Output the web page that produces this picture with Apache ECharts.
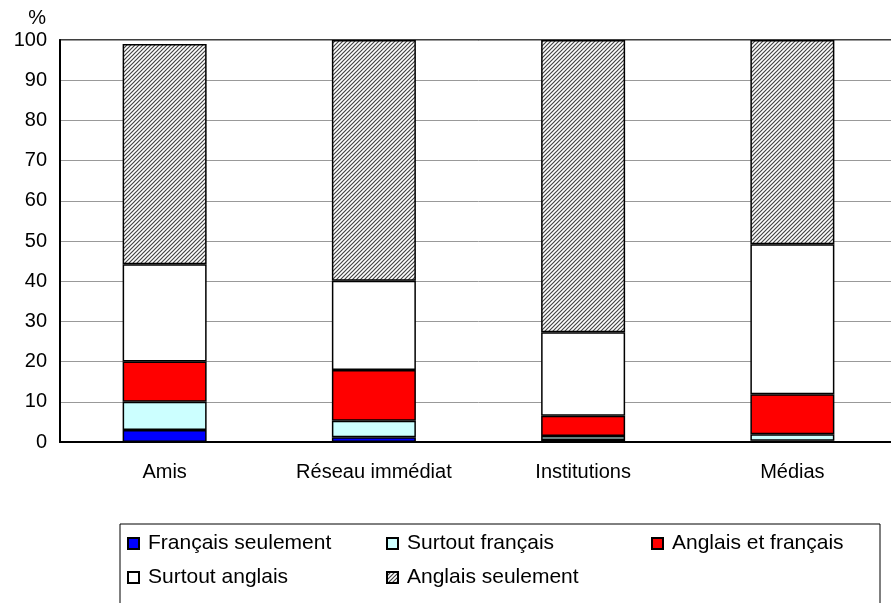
<!DOCTYPE html>
<html>
<head>
<meta charset="utf-8">
<script src="https://cdn.jsdelivr.net/npm/echarts@6/dist/echarts.min.js"></script>
<style>
  html, body { margin: 0; padding: 0; background: #fff; overflow: hidden; }
  #chart { width: 900px; height: 603px; }
</style>
</head>
<body>
<div id="chart"></div>
<script>
// categories and stacked shares (%)
const categories = ['Amis', 'Réseau immédiat', 'Institutions', 'Médias'];
const francaisSeulement = [3.0, 1.2, 0.5, 0.3];
const surtoutFrancais = [7.0, 4.1, 1.0, 1.6];
const anglaisEtFrancais = [10.0, 12.6, 5.0, 10.0];
const surtoutAnglais = [24.2, 22.2, 20.8, 37.3];
const anglaisSeulement = [54.8, 59.9, 72.7, 50.8];
const yTicks = [0, 10, 20, 30, 40, 50, 60, 70, 80, 90, 100];

const font = 'Liberation Sans, Arial, sans-serif';

// hatch pattern for "Anglais seulement"
function hatch() {
  const c = document.createElement('canvas');
  c.width = 4; c.height = 4;
  const ctx = c.getContext('2d');
  ctx.fillStyle = '#fff';
  ctx.fillRect(0, 0, 4, 4);
  ctx.strokeStyle = '#444';
  ctx.lineWidth = 1.2;
  ctx.beginPath();
  ctx.moveTo(-1, 5); ctx.lineTo(5, -1);
  ctx.moveTo(-1, 1); ctx.lineTo(1, -1);
  ctx.moveTo(3, 5); ctx.lineTo(5, 3);
  ctx.stroke();
  return { image: c, repeat: 'repeat' };
}

// chart is a bit wider than the window so the plot's right edge falls off-screen
const chart = echarts.init(document.getElementById('chart'));

const mk = (name, data, color) => ({
  name: name,
  type: 'bar',
  stack: 'total',
  barWidth: 84,
  data: data,
  itemStyle: { color: color, borderColor: '#000', borderWidth: 1.5 }
});

const legendPos = [
  ['Français seulement', 127, 533],
  ['Surtout français', 386, 533],
  ['Anglais et français', 651, 533],
  ['Surtout anglais', 127, 567],
  ['Anglais seulement', 386, 567]
];

chart.setOption({
  backgroundColor: '#fff',
  animation: false,
  grid: { left: 60, top: 40, bottom: 161, right: 3, show: true, borderColor: '#000', borderWidth: 1.5, backgroundColor: 'transparent' },
  xAxis: {
    type: 'category',
    data: categories,
    axisLine: { lineStyle: { color: '#000', width: 2 } },
    axisTick: { show: false },
    axisLabel: { color: '#000', fontFamily: font, fontSize: 20, margin: 20 }
  },
  yAxis: {
    type: 'value',
    min: 0,
    max: 100,
    interval: 10,
    name: '%',
    nameLocation: 'end',
    nameGap: 12,
    nameTextStyle: { color: '#000', fontFamily: font, fontSize: 20, align: 'right', padding: [0, 14, 0, 0] },
    axisLine: { show: true, lineStyle: { color: '#000', width: 2 } },
    axisTick: { show: false },
    axisLabel: { color: '#000', fontFamily: font, fontSize: 20, margin: 13,
      formatter: v => yTicks.includes(v) ? String(v) : '' },
    splitLine: { lineStyle: { color: '#999', width: 1 } }
  },
  legend: legendPos.map(([name, x, y]) => ({
    data: [name],
    left: x,
    top: y,
    padding: 0,
    itemWidth: 11,
    itemHeight: 11,
    itemGap: 0,
    icon: 'rect',
    selectedMode: false,
    textStyle: { color: '#000', fontFamily: font, fontSize: 21, padding: [0, 0, 0, 4] }
  })),
  graphic: [{
    type: 'rect',
    shape: { x: 120, y: 524, width: 760, height: 100 },
    style: { fill: 'none', stroke: '#000', lineWidth: 1 },
    z: -1
  }],
  series: [
    mk('Français seulement', francaisSeulement, '#0000ff'),
    mk('Surtout français', surtoutFrancais, '#ccffff'),
    mk('Anglais et français', anglaisEtFrancais, '#ff0000'),
    mk('Surtout anglais', surtoutAnglais, '#ffffff'),
    mk('Anglais seulement', anglaisSeulement, hatch())
  ]
});
</script>
</body>
</html>
